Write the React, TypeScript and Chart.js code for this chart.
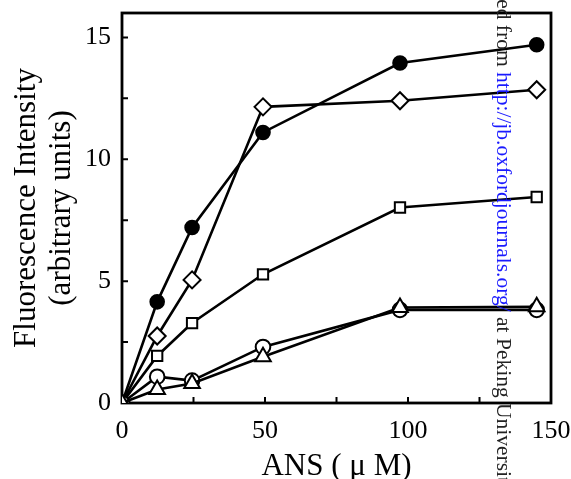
import React, { useEffect, useRef } from "react";
import { Chart, registerables } from "chart.js";

Chart.register(...registerables);

const xValues = [0, 12.3, 24.5, 49.3, 97.2, 145];
const filledCircle = [0, 4.15, 7.2, 11.1, 13.95, 14.7];
const openDiamond = [0, 2.75, 5.05, 12.15, 12.4, 12.85];
const openSquare = [0, 1.93, 3.28, 5.28, 8.02, 8.45];
const openCircle = [0, 1.08, 0.92, 2.3, 3.82, 3.82];
const openTriangle = [0, 0.55, 0.8, 1.9, 3.92, 3.95];

const xTickValues = [0, 25, 50, 75, 100, 125, 150];
const yTickValues = [0, 2.5, 5, 7.5, 10, 12.5, 15];
const xTitle = "ANS ( \u03bc M)";
const yTitle = ["Fluorescence Intensity", "(arbitrary units)"];
const watermark = ["Downloaded from ", "http://jb.oxfordjournals.org/", " at Peking University on ..."];

const SERIF = "'Liberation Serif', 'DejaVu Serif', serif";

const framePlugin = {
  id: "frameTicks",
  beforeDatasetsDraw(chart: any) {
    const { ctx, chartArea } = chart;
    const xs = chart.scales.x;
    const ys = chart.scales.y;
    ctx.save();
    ctx.strokeStyle = "#000";
    ctx.lineWidth = 2;
    ctx.beginPath();
    xTickValues.forEach((v) => {
      const px = xs.getPixelForValue(v);
      ctx.moveTo(px, chartArea.bottom);
      ctx.lineTo(px, chartArea.bottom - 6);
    });
    yTickValues.forEach((v) => {
      const py = ys.getPixelForValue(v);
      ctx.moveTo(chartArea.left, py);
      ctx.lineTo(chartArea.left + 6, py);
    });
    ctx.stroke();
    ctx.lineWidth = 2.8;
    ctx.strokeRect(chartArea.left, chartArea.top, chartArea.right - chartArea.left, chartArea.bottom - chartArea.top);
    ctx.restore();
  },
  afterDraw(chart: any) {
    const { ctx } = chart;
    ctx.save();
    ctx.translate(497, 0);
    ctx.rotate(Math.PI / 2);
    ctx.font = `21.5px ${SERIF}`;
    ctx.textBaseline = "alphabetic";
    ctx.textAlign = "left";
    const w0 = ctx.measureText(watermark[0]).width;
    let pos = 72 - w0;
    ctx.fillStyle = "#222";
    ctx.fillText(watermark[0], pos, 0);
    pos += w0;
    ctx.fillStyle = "#1a1aff";
    ctx.fillText(watermark[1], pos, 0);
    pos += ctx.measureText(watermark[1]).width;
    ctx.fillStyle = "#222";
    ctx.fillText(watermark[2], pos, 0);
    ctx.restore();
  },
};

const zeroPad = (s: any) => {
  s.paddingTop = 0;
  s.paddingBottom = 0;
  s.paddingLeft = 0;
  s.paddingRight = 0;
};

export default function App() {
  const ref = useRef<HTMLCanvasElement>(null);
  useEffect(() => {
    document.body.style.margin = "0";
    const mk = (data: number[], style: string, radius: number, fill: string) => ({
      data: xValues.map((x, i) => ({ x, y: data[i] })),
      borderColor: "#000",
      borderWidth: 2.6,
      pointStyle: style,
      pointRadius: radius,
      pointBorderWidth: 2,
      pointBackgroundColor: fill,
      pointBorderColor: "#000",
      backgroundColor: fill,
      showLine: true,
      tension: 0,
    });
    const chart = new Chart(ref.current as HTMLCanvasElement, {
      type: "scatter",
      data: {
        datasets: [
          mk(openTriangle, "triangle", 9, "#fff"),
          mk(openCircle, "circle", 7.3, "#fff"),
          mk(openSquare, "rect", 7.3, "#fff"),
          mk(openDiamond, "rectRot", 8.5, "#fff"),
          mk(filledCircle, "circle", 6.8, "#000"),
        ] as any,
      },
      options: {
        responsive: false,
        animation: false,
        layout: { padding: { left: 0, top: 13, right: 20, bottom: 0 } },
        plugins: { legend: { display: false }, tooltip: { enabled: false } },
        scales: {
          x: {
            type: "linear",
            min: 0,
            max: 150,
            grid: { display: false },
            border: { display: false },
            afterBuildTicks: (s: any) => {
              s.ticks = xTickValues.map((v) => ({ value: v }));
            },
            afterFit: (s: any) => {
              s.height = 76;
              zeroPad(s);
            },
            ticks: {
              color: "#000",
              padding: 5,
              maxRotation: 0,
              autoSkip: false,
              font: { family: SERIF, size: 26 },
              callback: (v: any) => (Number(v) % 50 === 0 ? String(v) : ""),
            },
            title: {
              display: true,
              text: xTitle,
              color: "#000",
              font: { family: SERIF, size: 31, lineHeight: 1 },
              padding: { top: 0, bottom: -3 },
            },
          },
          y: {
            type: "linear",
            min: 0,
            max: 16,
            grid: { display: false },
            border: { display: false },
            afterBuildTicks: (s: any) => {
              s.ticks = yTickValues.map((v) => ({ value: v }));
            },
            afterFit: (s: any) => {
              s.width = 122;
              zeroPad(s);
            },
            ticks: {
              color: "#000",
              padding: 3,
              autoSkip: false,
              font: { family: SERIF, size: 26 },
              callback: (v: any) => (Number(v) % 5 === 0 ? String(v) : ""),
            },
            title: {
              display: true,
              text: yTitle,
              color: "#000",
              font: { family: SERIF, size: 31, lineHeight: 1.13 },
              padding: { top: 9, bottom: 0 },
            },
          },
        },
      },
      plugins: [framePlugin],
    });
    return () => chart.destroy();
  }, []);
  return (
    <div style={{ position: "absolute", left: 0, top: 0, width: 571, height: 479 }}>
      <canvas ref={ref} width={571} height={479} style={{ display: "block" }} />
    </div>
  );
}
